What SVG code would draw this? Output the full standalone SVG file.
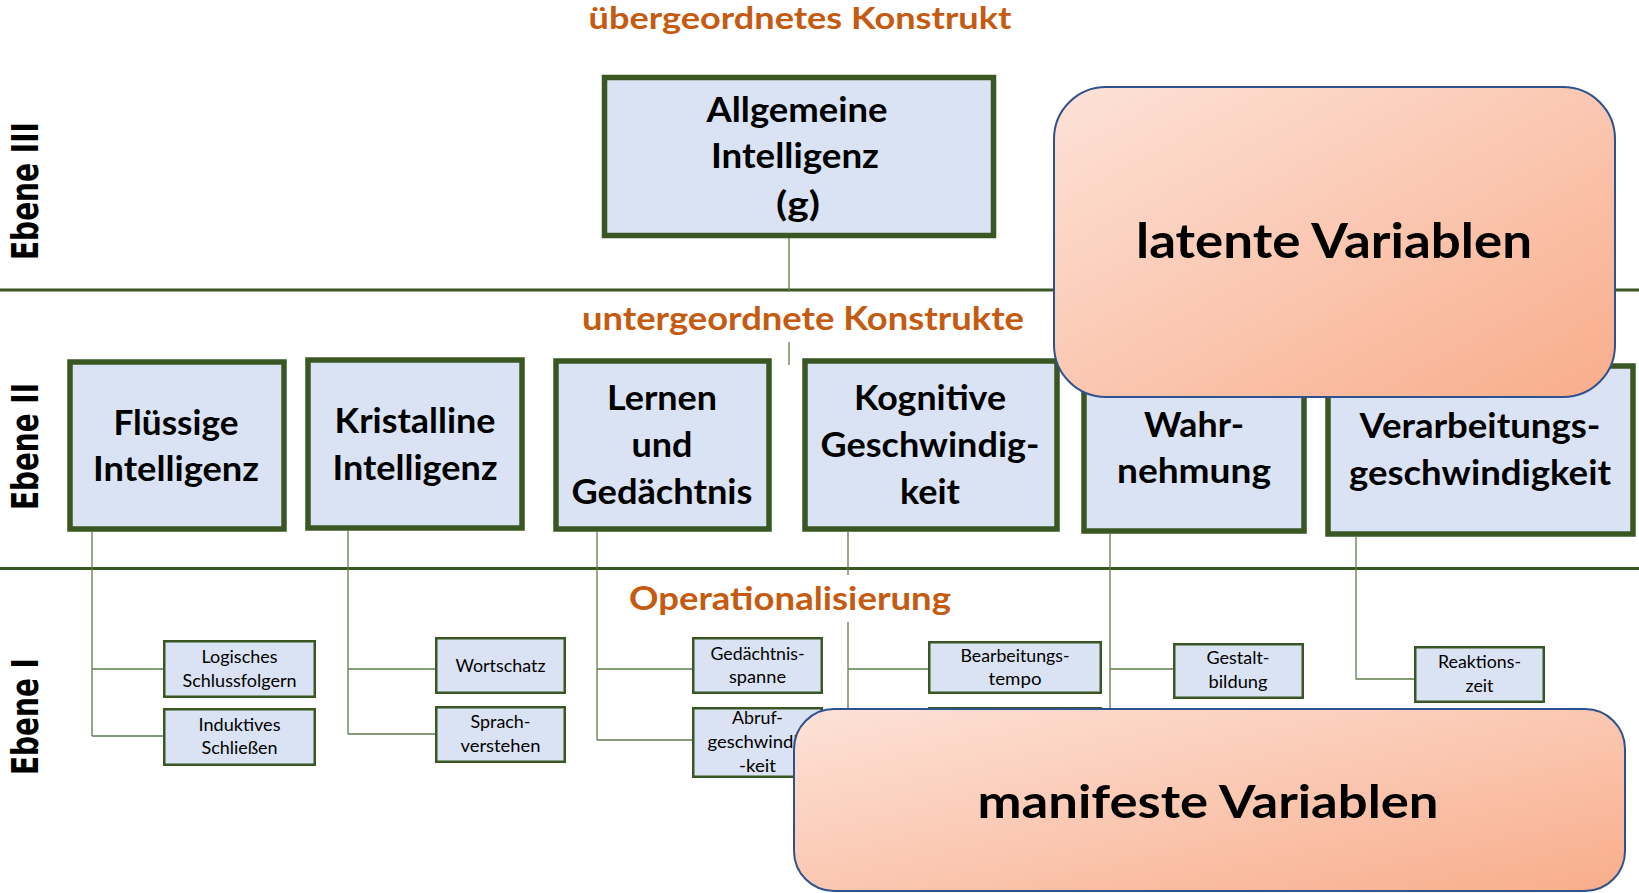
<svg xmlns="http://www.w3.org/2000/svg" width="1639" height="893" viewBox="0 0 1639 893">
<defs>
<linearGradient id="peach" x1="0" y1="0" x2="1" y2="1">
<stop offset="0" stop-color="#fde2d8"/>
<stop offset="1" stop-color="#f8ad8b"/>
</linearGradient>
<style>
.sep{stroke:#385723;stroke-width:3;fill:none}
.con{stroke:#5e7d4b;stroke-width:1.3;fill:none}
.b2{fill:#dae3f3;stroke:#385723;stroke-width:5.5}
.b1{fill:#dae3f3;stroke:#385723;stroke-width:2.5}
.big{fill:url(#peach);stroke:#2f528f;stroke-width:2}
.t2{font-family:Lato,"Open Sans",sans-serif;font-weight:bold;font-size:35px;fill:#000;text-anchor:middle}
.t1{font-family:Lato,"Open Sans",sans-serif;font-size:17px;fill:#000;text-anchor:middle}
.hd{font-family:Lato,"Open Sans",sans-serif;font-weight:bold;fill:#c55a11;text-anchor:middle}
.eb{font-family:"DejaVu Sans",sans-serif;font-weight:bold;font-size:38px;fill:#000;text-anchor:middle}
.bt{font-family:Lato,"Open Sans",sans-serif;font-weight:bold;fill:#000;text-anchor:middle}
</style>
</defs>
<rect width="1639" height="893" fill="#fff"/>
<g id="separators">
<line class="sep" x1="0" y1="290" x2="1639" y2="290"/>
<line class="sep" x1="0" y1="568.5" x2="1639" y2="568.5"/>
</g>
<g id="level-labels">
<text class="eb" transform="translate(38,191) rotate(-90)" textLength="138" lengthAdjust="spacingAndGlyphs">Ebene III</text>
<text class="eb" transform="translate(38,446.5) rotate(-90)" textLength="127" lengthAdjust="spacingAndGlyphs">Ebene II</text>
<text class="eb" transform="translate(38,716.5) rotate(-90)" textLength="117" lengthAdjust="spacingAndGlyphs">Ebene I</text>
</g>
<g id="headings">
<text class="hd" x="800" y="28.5" font-size="30" textLength="423" lengthAdjust="spacingAndGlyphs">übergeordnetes Konstrukt</text>
<text class="hd" x="803" y="330" font-size="32" textLength="442" lengthAdjust="spacingAndGlyphs">untergeordnete Konstrukte</text>
<text class="hd" x="790" y="610" font-size="33" textLength="322" lengthAdjust="spacingAndGlyphs">Operationalisierung</text>
</g>
<g id="connectors">
<path class="con" d="M789 238V292M789 342V365"/>
<path class="con" d="M92 532V736M92 669H163M92 736H163"/>
<path class="con" d="M348 531V734M348 669H435M348 734H435"/>
<path class="con" d="M597 532V740M597 669H692M597 740H692"/>
<path class="con" d="M848 532V575M848 622V740M848 669H928M848 735H928"/>
<path class="con" d="M1110 534V740M1110 669H1173"/>
<path class="con" d="M1356 537V679H1414"/>
</g>
<g id="node-g">
<rect class="b2" x="604.5" y="77.5" width="389" height="158"/>
<text class="t2" x="797" y="122" textLength="181" lengthAdjust="spacingAndGlyphs">Allgemeine</text>
<text class="t2" x="795" y="168" textLength="168" lengthAdjust="spacingAndGlyphs">Intelligenz</text>
<text class="t2" x="798" y="216" textLength="44" lengthAdjust="spacingAndGlyphs">(g)</text>
</g>
<g id="node-fluessig">
<rect class="b2" x="70" y="362" width="214" height="167"/>
<text class="t2" x="176" y="435" textLength="125" lengthAdjust="spacingAndGlyphs">Flüssige</text>
<text class="t2" x="176" y="481" textLength="166" lengthAdjust="spacingAndGlyphs">Intelligenz</text>
</g>
<g id="node-kristallin">
<rect class="b2" x="308" y="360" width="214" height="168"/>
<text class="t2" x="415" y="433" textLength="161" lengthAdjust="spacingAndGlyphs">Kristalline</text>
<text class="t2" x="415" y="480" textLength="165" lengthAdjust="spacingAndGlyphs">Intelligenz</text>
</g>
<g id="node-lernen">
<rect class="b2" x="556" y="361" width="213" height="168"/>
<text class="t2" x="662" y="410" textLength="110" lengthAdjust="spacingAndGlyphs">Lernen</text>
<text class="t2" x="662" y="457" textLength="61" lengthAdjust="spacingAndGlyphs">und</text>
<text class="t2" x="662" y="504" textLength="181" lengthAdjust="spacingAndGlyphs">Gedächtnis</text>
</g>
<g id="node-kognitiv">
<rect class="b2" x="805" y="361" width="252" height="168"/>
<text class="t2" x="930" y="410" textLength="152" lengthAdjust="spacingAndGlyphs">Kognitive</text>
<text class="t2" x="930" y="457" textLength="219" lengthAdjust="spacingAndGlyphs">Geschwindig-</text>
<text class="t2" x="930" y="504" textLength="60" lengthAdjust="spacingAndGlyphs">keit</text>
</g>
<g id="node-wahrnehmung">
<rect class="b2" x="1084" y="364" width="220" height="167"/>
<text class="t2" x="1194" y="437" textLength="100" lengthAdjust="spacingAndGlyphs">Wahr-</text>
<text class="t2" x="1194" y="483" textLength="154" lengthAdjust="spacingAndGlyphs">nehmung</text>
</g>
<g id="node-verarbeitung">
<rect class="b2" x="1328" y="366" width="305" height="168"/>
<text class="t2" x="1480" y="438" textLength="241" lengthAdjust="spacingAndGlyphs">Verarbeitungs-</text>
<text class="t2" x="1480" y="485" textLength="262" lengthAdjust="spacingAndGlyphs">geschwindigkeit</text>
</g>
<g id="node-logisch">
<rect class="b1" x="164.25" y="641.25" width="150.5" height="55.5"/>
<text class="t1" x="239.5" y="663" textLength="76" lengthAdjust="spacingAndGlyphs">Logisches</text>
<text class="t1" x="239.5" y="687" textLength="114" lengthAdjust="spacingAndGlyphs">Schlussfolgern</text>
</g>
<g id="node-induktiv">
<rect class="b1" x="164.25" y="709.25" width="150.5" height="55.5"/>
<text class="t1" x="239.5" y="731" textLength="82" lengthAdjust="spacingAndGlyphs">Induktives</text>
<text class="t1" x="239.5" y="754" textLength="76" lengthAdjust="spacingAndGlyphs">Schließen</text>
</g>
<g id="node-wortschatz">
<rect class="b1" x="436.25" y="638.25" width="128.5" height="54.5"/>
<text class="t1" x="500.5" y="672" textLength="90" lengthAdjust="spacingAndGlyphs">Wortschatz</text>
</g>
<g id="node-sprach">
<rect class="b1" x="436.25" y="707.25" width="128.5" height="54.5"/>
<text class="t1" x="500.5" y="728" textLength="60" lengthAdjust="spacingAndGlyphs">Sprach-</text>
<text class="t1" x="500.5" y="752" textLength="80" lengthAdjust="spacingAndGlyphs">verstehen</text>
</g>
<g id="node-spanne">
<rect class="b1" x="693.25" y="638.25" width="128.5" height="54.5"/>
<text class="t1" x="757.5" y="660" textLength="94" lengthAdjust="spacingAndGlyphs">Gedächtnis-</text>
<text class="t1" x="757.5" y="683" textLength="57" lengthAdjust="spacingAndGlyphs">spanne</text>
</g>
<g id="node-abruf">
<rect class="b1" x="693.25" y="708.25" width="128.5" height="68.5"/>
<text class="t1" x="757.5" y="724" textLength="51" lengthAdjust="spacingAndGlyphs">Abruf-</text>
<text class="t1" x="757.5" y="748" textLength="100" lengthAdjust="spacingAndGlyphs">geschwindig</text>
<text class="t1" x="757.5" y="772" textLength="37" lengthAdjust="spacingAndGlyphs">-keit</text>
</g>
<g id="node-tempo">
<rect class="b1" x="929.25" y="642.25" width="171.5" height="50.5"/>
<text class="t1" x="1015" y="662" textLength="109" lengthAdjust="spacingAndGlyphs">Bearbeitungs-</text>
<text class="t1" x="1015" y="685" textLength="53" lengthAdjust="spacingAndGlyphs">tempo</text>
</g>
<g id="node-kognitiv-2">
<rect class="b1" x="929.25" y="708.25" width="171.5" height="55"/>
</g>
<g id="node-gestalt">
<rect class="b1" x="1174.25" y="644.25" width="128.5" height="53.5"/>
<text class="t1" x="1238" y="664" textLength="63" lengthAdjust="spacingAndGlyphs">Gestalt-</text>
<text class="t1" x="1238" y="688" textLength="59" lengthAdjust="spacingAndGlyphs">bildung</text>
</g>
<g id="node-reaktion">
<rect class="b1" x="1415.25" y="647.25" width="128.5" height="54.5"/>
<text class="t1" x="1479.5" y="668" textLength="83" lengthAdjust="spacingAndGlyphs">Reaktions-</text>
<text class="t1" x="1479.5" y="692" textLength="28" lengthAdjust="spacingAndGlyphs">zeit</text>
</g>
<g id="node-latent">
<rect class="big" x="1054" y="87" width="561" height="310" rx="52" ry="52"/>
<text class="bt" x="1334" y="258" font-size="47" textLength="396" lengthAdjust="spacingAndGlyphs">latente Variablen</text>
</g>
<g id="node-manifest">
<rect class="big" x="794" y="709" width="831" height="182" rx="40" ry="40"/>
<text class="bt" x="1208" y="818" font-size="46" textLength="461" lengthAdjust="spacingAndGlyphs">manifeste Variablen</text>
</g>
</svg>
